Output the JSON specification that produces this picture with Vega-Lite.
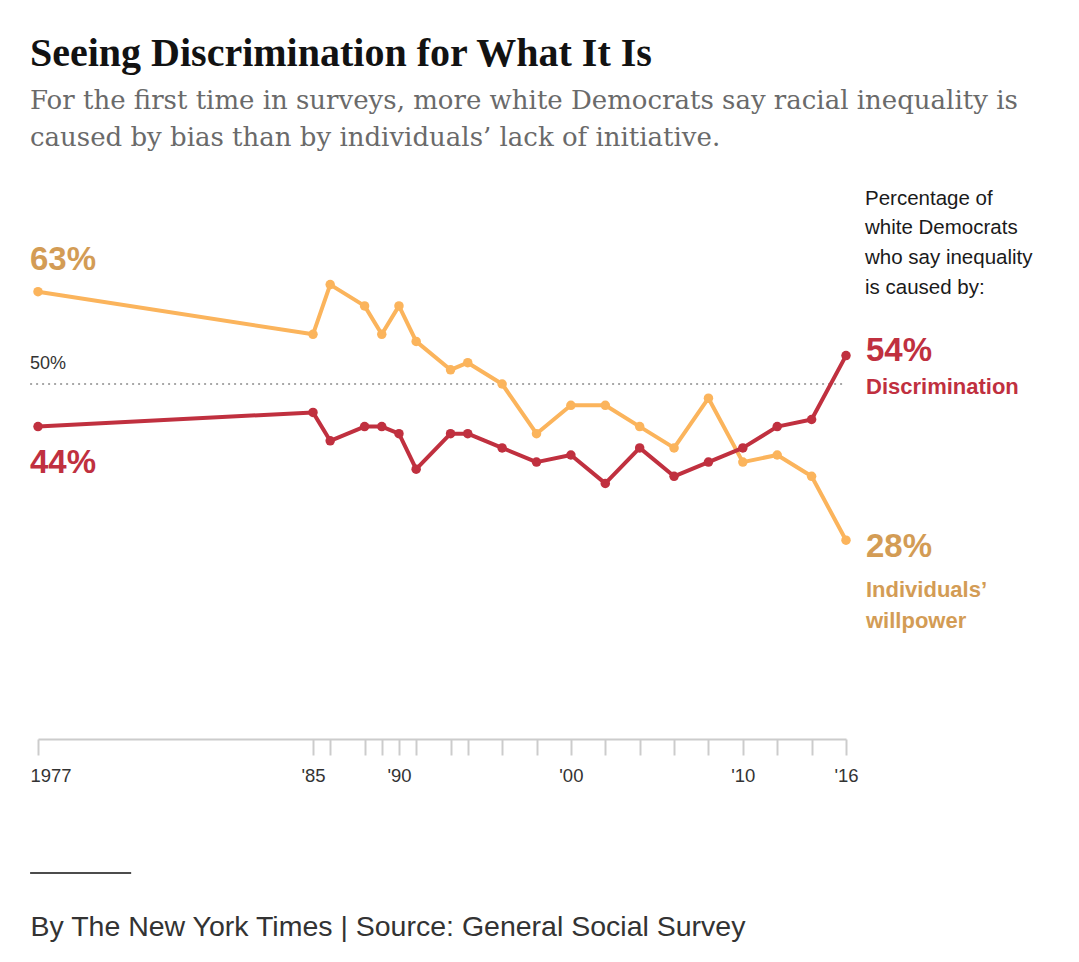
{
  "$schema": "https://vega.github.io/schema/vega-lite/v6.json",
  "autosize": {"type": "none"},
  "width": 808,
  "height": 568,
  "padding": {"left": 38, "top": 171, "right": 233, "bottom": 223},
  "background": "#ffffff",
  "title": {
    "text": "Seeing Discrimination for What It Is",
    "subtitle": ["For the first time in surveys, more white Democrats say racial inequality is", "caused by bias than by individuals\u2019 lack of initiative."],
    "anchor": "start",
    "frame": "group",
    "dx": -8,
    "offset": 20,
    "font": "Liberation Serif",
    "fontSize": 40,
    "fontWeight": "bold",
    "color": "#121212",
    "subtitleFont": "DejaVu Serif",
    "subtitleFontSize": 26,
    "subtitleColor": "#6a6a6a",
    "subtitleLineHeight": 37,
    "subtitlePadding": 14
  },
  "config": {
    "view": {"stroke": null},
    "text": {"font": "Liberation Sans"}
  },
  "data": {
    "values": [
      {"year": 1977, "series": "Individuals' willpower", "value": 63},
      {"year": 1985, "series": "Individuals' willpower", "value": 57},
      {"year": 1986, "series": "Individuals' willpower", "value": 64},
      {"year": 1988, "series": "Individuals' willpower", "value": 61},
      {"year": 1989, "series": "Individuals' willpower", "value": 57},
      {"year": 1990, "series": "Individuals' willpower", "value": 61},
      {"year": 1991, "series": "Individuals' willpower", "value": 56},
      {"year": 1993, "series": "Individuals' willpower", "value": 52},
      {"year": 1994, "series": "Individuals' willpower", "value": 53},
      {"year": 1996, "series": "Individuals' willpower", "value": 50},
      {"year": 1998, "series": "Individuals' willpower", "value": 43},
      {"year": 2000, "series": "Individuals' willpower", "value": 47},
      {"year": 2002, "series": "Individuals' willpower", "value": 47},
      {"year": 2004, "series": "Individuals' willpower", "value": 44},
      {"year": 2006, "series": "Individuals' willpower", "value": 41},
      {"year": 2008, "series": "Individuals' willpower", "value": 48},
      {"year": 2010, "series": "Individuals' willpower", "value": 39},
      {"year": 2012, "series": "Individuals' willpower", "value": 40},
      {"year": 2014, "series": "Individuals' willpower", "value": 37},
      {"year": 2016, "series": "Individuals' willpower", "value": 28},
      {"year": 1977, "series": "Discrimination", "value": 44},
      {"year": 1985, "series": "Discrimination", "value": 46},
      {"year": 1986, "series": "Discrimination", "value": 42},
      {"year": 1988, "series": "Discrimination", "value": 44},
      {"year": 1989, "series": "Discrimination", "value": 44},
      {"year": 1990, "series": "Discrimination", "value": 43},
      {"year": 1991, "series": "Discrimination", "value": 38},
      {"year": 1993, "series": "Discrimination", "value": 43},
      {"year": 1994, "series": "Discrimination", "value": 43},
      {"year": 1996, "series": "Discrimination", "value": 41},
      {"year": 1998, "series": "Discrimination", "value": 39},
      {"year": 2000, "series": "Discrimination", "value": 40},
      {"year": 2002, "series": "Discrimination", "value": 36},
      {"year": 2004, "series": "Discrimination", "value": 41},
      {"year": 2006, "series": "Discrimination", "value": 37},
      {"year": 2008, "series": "Discrimination", "value": 39},
      {"year": 2010, "series": "Discrimination", "value": 41},
      {"year": 2012, "series": "Discrimination", "value": 44},
      {"year": 2014, "series": "Discrimination", "value": 45},
      {"year": 2016, "series": "Discrimination", "value": 54}
    ]
  },
  "transform": [{"calculate": "datum.value + '%'", "as": "label"}],
  "encoding": {
    "x": {
      "field": "year",
      "type": "quantitative",
      "scale": {"domain": [1977, 1985, 2016], "range": [0, 275, 808], "nice": false, "zero": false},
      "axis": {
        "values": [1977, 1985, 1986, 1988, 1989, 1990, 1991, 1993, 1994, 1996, 1998, 2000, 2002, 2004, 2006, 2008, 2010, 2012, 2014, 2016],
        "labelExpr": "datum.value == 1977 ? '1977' : indexof([1985, 1990, 2000, 2010, 2016], datum.value) >= 0 ? \"'\" + slice(toString(datum.value), 2) : ''",
        "title": "By The New York Times | Source: General Social Survey",
        "titleAnchor": "start",
        "titleAlign": "left",
        "titleBaseline": "alphabetic",
        "titleX": -8,
        "titleY": 196,
        "titleFont": "Liberation Sans",
        "titleFontSize": 28.5,
        "titleFontWeight": "normal",
        "titleColor": "#333333",
        "grid": false,
        "domainColor": "#cccccc",
        "domainWidth": 2,
        "tickColor": "#cccccc",
        "tickWidth": 2,
        "tickSize": 16,
        "labelFont": "Liberation Sans",
        "labelFontSize": 18.5,
        "labelColor": "#333333",
        "labelPadding": 11,
        "labelFlush": false,
        "labelAlign": {"condition": {"test": "datum.value == 1977", "value": "left"}, "value": "center"},
        "labelOffset": {"condition": {"test": "datum.value == 1977", "value": -8}, "value": 0}
      }
    },
    "y": {
      "field": "value",
      "type": "quantitative",
      "scale": {"domain": [0, 80], "nice": false, "zero": false},
      "axis": null
    }
  },
  "layer": [
    {
      "transform": [{"filter": "datum.year == 2016 && datum.series == 'Discrimination'"}],
      "mark": {"type": "rule", "stroke": "#8c8c8c", "strokeWidth": 1.6, "strokeDash": [2, 4]},
      "encoding": {
        "x": {"datum": 1976.77},
        "x2": {"datum": 2016},
        "y": {"datum": 50}
      }
    },
    {
      "transform": [{"filter": "datum.year == 2016 && datum.series == 'Discrimination'"}],
      "mark": {"type": "text", "text": "50%", "align": "left", "baseline": "alphabetic", "dy": -15, "fontSize": 18, "fill": "#333333"},
      "encoding": {
        "x": {"datum": 1976.77},
        "y": {"datum": 50}
      }
    },
    {
      "mark": {"type": "line", "strokeWidth": 4, "strokeJoin": "round", "point": {"filled": true, "size": 90, "opacity": 1}},
      "encoding": {
        "color": {
          "field": "series",
          "type": "nominal",
          "scale": {"domain": ["Individuals' willpower", "Discrimination"], "range": ["#fbb45c", "#c0303f"]},
          "legend": null
        },
        "order": {"field": "year"}
      }
    },
    {
      "transform": [{"filter": "datum.year == 1977 && datum.series == \"Individuals' willpower\""}],
      "mark": {"type": "text", "align": "left", "baseline": "alphabetic", "dx": -8, "dy": -22, "fontSize": 33, "fontWeight": "bold", "fill": "#d39c55"},
      "encoding": {"text": {"field": "label"}}
    },
    {
      "transform": [{"filter": "datum.year == 1977 && datum.series == 'Discrimination'"}],
      "mark": {"type": "text", "align": "left", "baseline": "alphabetic", "dx": -8, "dy": 46, "fontSize": 33, "fontWeight": "bold", "fill": "#c0303f"},
      "encoding": {"text": {"field": "label"}}
    },
    {
      "transform": [{"filter": "datum.year == 2016 && datum.series == 'Discrimination'"}],
      "mark": {"type": "text", "align": "left", "baseline": "alphabetic", "dx": 20, "dy": 5.5, "fontSize": 33, "fontWeight": "bold", "fill": "#c0303f"},
      "encoding": {"text": {"field": "label"}}
    },
    {
      "transform": [{"filter": "datum.year == 2016 && datum.series == 'Discrimination'"}],
      "mark": {"type": "text", "align": "left", "baseline": "alphabetic", "dx": 20, "dy": 38.7, "fontSize": 22, "fontWeight": "bold", "fill": "#c0303f"},
      "encoding": {"text": {"field": "series"}}
    },
    {
      "transform": [{"filter": "datum.year == 2016 && datum.series == 'Discrimination'"}],
      "mark": {
        "type": "text",
        "text": ["Percentage of", "white Democrats", "who say inequality", "is caused by:"],
        "align": "left", "baseline": "alphabetic", "dx": 19, "dy": -151,
        "lineHeight": 29.7, "fontSize": 20.5, "fill": "#1a1a1a"
      }
    },
    {
      "transform": [{"filter": "datum.year == 2016 && datum.series == \"Individuals' willpower\""}],
      "mark": {"type": "text", "align": "left", "baseline": "alphabetic", "dx": 20, "dy": 17, "fontSize": 33, "fontWeight": "bold", "fill": "#d39c55"},
      "encoding": {"text": {"field": "label"}}
    },
    {
      "transform": [{"filter": "datum.year == 2016 && datum.series == \"Individuals' willpower\""}],
      "mark": {
        "type": "text",
        "text": ["Individuals\u2019", "willpower"],
        "align": "left", "baseline": "alphabetic", "dx": 20, "dy": 56.5,
        "lineHeight": 31.5, "fontSize": 22, "fontWeight": "bold", "fill": "#d39c55"
      }
    },
    {
      "transform": [{"filter": "datum.year == 2016 && datum.series == 'Discrimination'"}],
      "mark": {"type": "rule", "stroke": "#111111", "strokeWidth": 1.5},
      "encoding": {
        "x": {"datum": 1976.77},
        "x2": {"datum": 1979.71},
        "y": {"datum": -18.87}
      }
    }
  ]
}
